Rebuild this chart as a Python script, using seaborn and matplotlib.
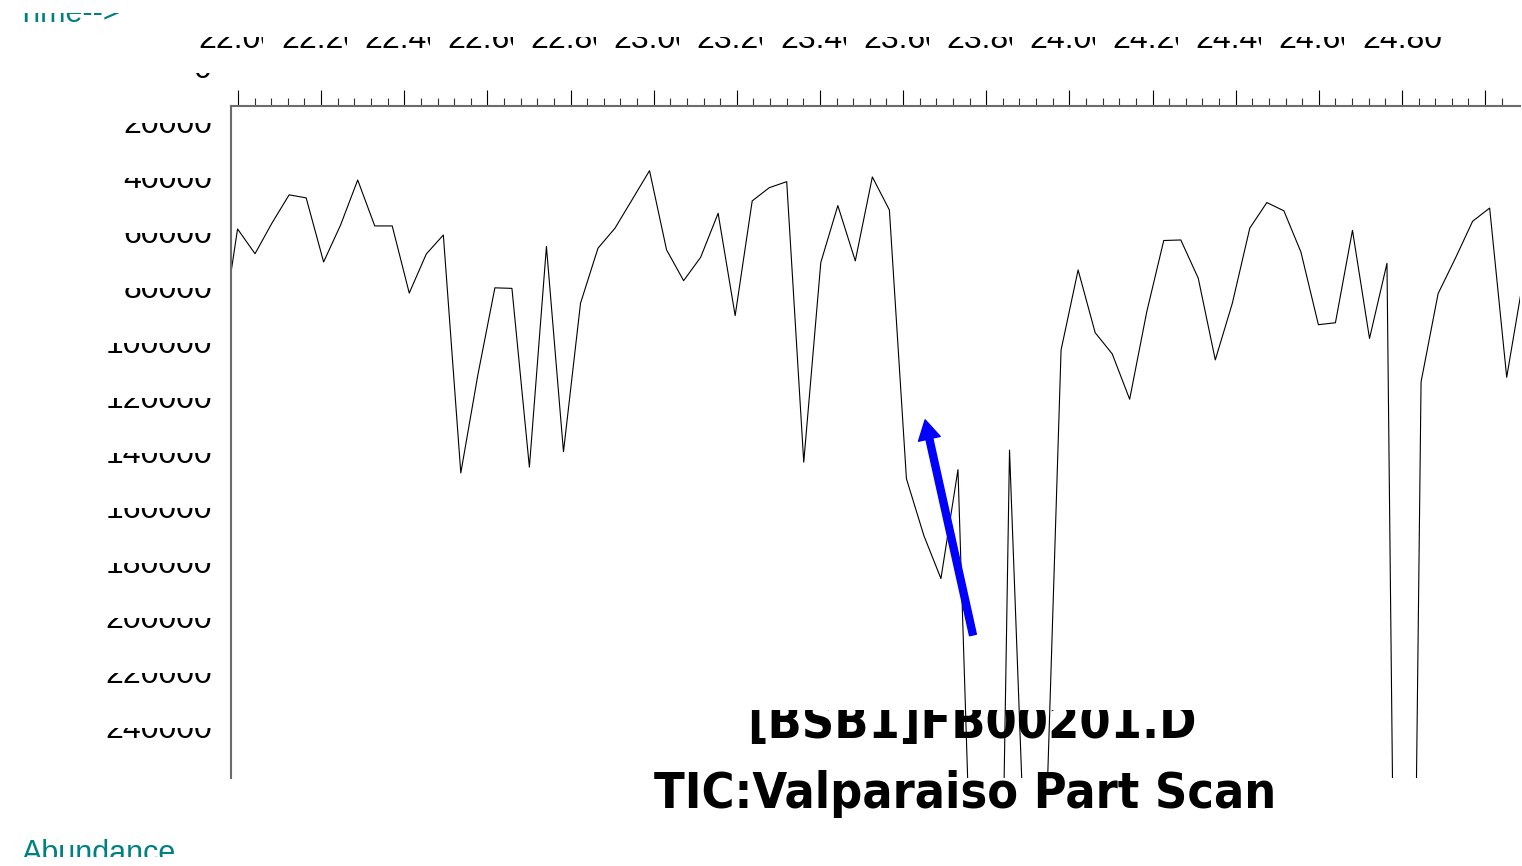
import numpy as np
import pandas as pd
import matplotlib
matplotlib.use('Agg')
import matplotlib.pyplot as plt
import matplotlib.transforms as mtransforms
from matplotlib.patches import Rectangle
import seaborn as sns

# Retentionszeit (min) jedes Scans und TIC-Abundanz
scan_time = [21.958, 21.999, 22.041, 22.082, 22.123, 22.164, 22.206, 22.247, 22.288, 22.329,
             22.371, 22.412, 22.453, 22.494, 22.536, 22.577, 22.618, 22.659, 22.701, 22.742,
             22.783, 22.824, 22.866, 22.907, 22.948, 22.990, 23.031, 23.072, 23.113, 23.155,
             23.196, 23.237, 23.278, 23.320, 23.361, 23.402, 23.443, 23.485, 23.526, 23.567,
             23.608, 23.650, 23.691, 23.732, 23.773, 23.815, 23.856, 23.897, 23.938, 23.980,
             24.021, 24.062, 24.103, 24.145, 24.186, 24.227, 24.268, 24.310, 24.351, 24.392,
             24.434, 24.475, 24.516, 24.557, 24.599, 24.640, 24.681, 24.722, 24.764, 24.805,
             24.846, 24.887, 24.929, 24.970, 25.011, 25.052, 25.094]
abundance = [98200, 57100, 66100, 54900, 44700, 45800, 69100, 55600, 39300, 56000,
             56000, 80400, 66200, 59300, 145800, 110200, 78500, 78700, 143700, 63500,
             138100, 84100, 64100, 56800, 46500, 35900, 64700, 75900, 67400, 51400,
             88600, 46900, 42100, 39900, 141900, 69300, 48600, 68700, 38200, 50200,
             147900, 168600, 184200, 144600, 342200, 514900, 137500, 304400, 303600, 101100,
             72000, 94800, 102500, 119000, 87300, 61300, 61100, 75000, 104700, 84100,
             56800, 47500, 50500, 65500, 91900, 91200, 57600, 96900, 69600, 650000,
             112700, 80600, 67600, 54300, 49500, 111000, 73500]

x_tick_values = [22.0, 22.2, 22.4, 22.6, 22.8, 23.0, 23.2, 23.4, 23.6, 23.8,
                 24.0, 24.2, 24.4, 24.6, 24.8]
x_tick_labels = ['22.00', '22.20', '22.40', '22.60', '22.80', '23.00', '23.20', '23.40',
                 '23.60', '23.80', '24.00', '24.20', '24.40', '24.60', '24.80']
y_tick_values = [0, 20000, 40000, 60000, 80000, 100000, 120000, 140000, 160000,
                 180000, 200000, 220000, 240000]
y_tick_labels = ['0', '20000', '40000', '60000', '80000', '100000', '120000', '140000',
                 '160000', '180000', '200000', '220000', '240000']

title_file = '[BSB1]FB00201.D'
title_scan = 'TIC:Valparaiso Part Scan'
x_name = 'Time-->'
y_name = 'Abundance'

# Pfeil (Spitze, Ende) in Datenkoordinaten
arrow_tip = (23.653, 126500)
arrow_tail = (23.768, 204700)

df = pd.DataFrame({'time': scan_time, 'abundance': abundance})

sns.set_style('white')
plt.rcParams['font.family'] = ['Liberation Sans', 'DejaVu Sans']
plt.rcParams['text.color'] = 'black'
teal = '#008080'

W, H = 1522, 866
fig = plt.figure(figsize=(W / 100, H / 100), dpi=100, facecolor='white')
ax = fig.add_axes([231 / W, 1 - 778 / H, (1520 - 231) / W, (778 - 106) / H])
ax.set_zorder(2)
ax.patch.set_visible(False)

sns.lineplot(data=df, x='time', y='abundance', color='black', linewidth=0.8,
             sort=False, estimator=None, ax=ax)
ax.set_xlim(21.9832, 25.084)
ax.set_ylim(256700, 12400)
ax.set_xlabel('')
ax.set_ylabel('')

# Achsen wie im Agilent-Ausdruck: Zeitachse oben, Abundanz nach unten
ax.xaxis.set_ticks_position('top')
ax.set_xticks(np.arange(22.0, 25.01, 0.2))
ax.set_xticks(np.arange(22.0, 25.08, 0.04), minor=True)
ax.set_yticks(np.arange(12600, 256000, 20000))
ax.set_yticks(np.arange(12600, 256700, 4000), minor=True)
ax.tick_params(axis='x', which='major', length=11.5, width=0.8, color='black',
               labeltop=False, labelbottom=False)
ax.tick_params(axis='x', which='minor', length=5.5, width=0.8, color='#333333')
ax.tick_params(axis='y', which='major', length=6.5, width=0.8, color='black',
               labelleft=False)
ax.tick_params(axis='y', which='minor', length=3.6, width=0.8, color='#333333')
for side in ['bottom', 'right']:
    ax.spines[side].set_visible(False)
for side in ['top', 'left']:
    ax.spines[side].set_color('#6b6b6b')
    ax.spines[side].set_linewidth(1.5)


def mask(x0, y0, x1, y1):
    # weisser Streifen (Pixel von oben) ueber abgeschnittenen Beschriftungen
    fig.add_artist(Rectangle((x0 / W, 1 - y1 / H), (x1 - x0) / W, (y1 - y0) / H,
                             transform=fig.transFigure, fc='white', ec='none',
                             zorder=1.5))


trans_y = mtransforms.blended_transform_factory(fig.transFigure, ax.transData)
trans_y = mtransforms.offset_copy(trans_y, fig=fig, x=0, y=-6, units='dots')
for val, lab in zip(y_tick_values, y_tick_labels):
    fig.text(212 / W, val, lab, transform=trans_y, ha='right', va='baseline',
             fontsize=23, color='black', zorder=1)
    base = H - trans_y.transform((212 / W, val))[1]
    mask(90, base - 30, 216, base - 10)

trans_x = mtransforms.blended_transform_factory(ax.transData, fig.transFigure)
for val, lab in zip(x_tick_values, x_tick_labels):
    fig.text(val, 1 - 48.5 / H, lab, transform=trans_x, ha='center', va='baseline',
             fontsize=23, color='black', zorder=1,
             bbox=dict(boxstyle='square,pad=0.55', fc='white', ec='none'))
mask(150, 0, 1480, 36.5)

fig.text(16 / W, 1 - 22 / H, x_name, color=teal, fontsize=22, va='baseline', zorder=1)
mask(0, 0, 140, 13)
fig.text(22 / W, 1 - 862 / H, y_name, color=teal, fontsize=22, va='baseline', zorder=1)
mask(0, 857, 200, H)

fig.text(972 / W, 1 - 738 / H, title_file, ha='center', va='baseline', fontsize=36,
         fontweight='bold', family='DejaVu Sans', fontstretch='condensed', zorder=1)
mask(700, 660, 1240, 710)
fig.text(965 / W, 1 - 808 / H, title_scan, ha='center', va='baseline', fontsize=36,
         fontweight='bold', family='DejaVu Sans', fontstretch='condensed', zorder=1)

ax.annotate('', xy=arrow_tip, xytext=arrow_tail,
            arrowprops=dict(width=5, headwidth=16, headlength=14, color='blue', shrink=0))

fig.savefig('out.png', dpi=100)
